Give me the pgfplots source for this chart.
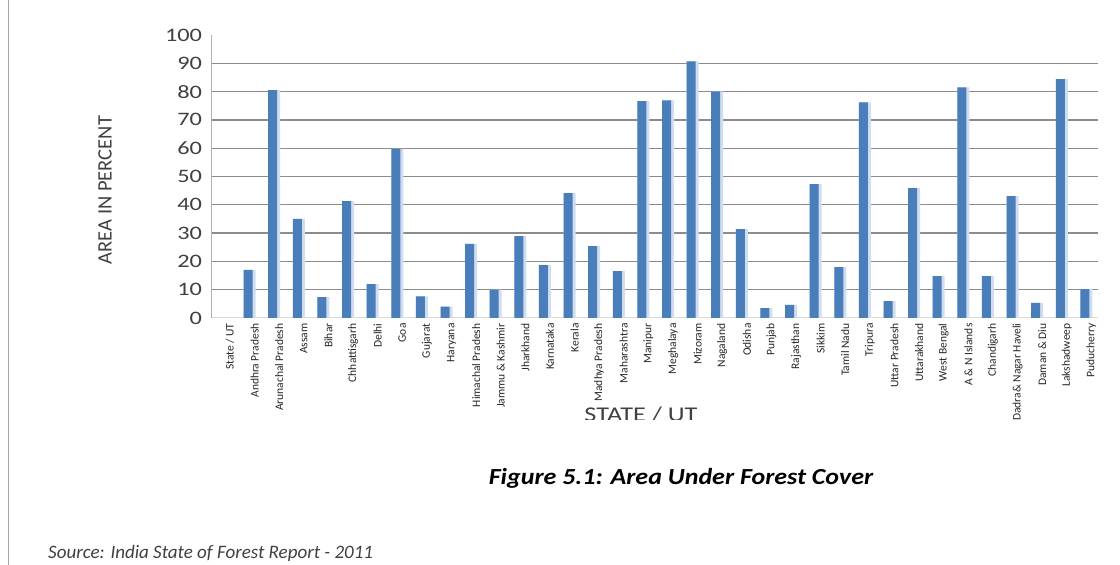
\documentclass[border=0pt]{standalone}
\usepackage{pgfplots}
\pgfplotsset{compat=1.18}
\usepackage{fontspec}
\setmainfont{Carlito}
\definecolor{barblue}{HTML}{4A7EBB}
\definecolor{barlight}{HTML}{CFDDEF}
\definecolor{gridgray}{HTML}{8C8C8C}
\definecolor{txt}{HTML}{404040}
\begin{document}
\begin{tikzpicture}[x=1pt,y=1pt]
\useasboundingbox (0,0) rectangle (1120,565);
\draw[gray!70, line width=1pt] (8,0) -- (8,565);
\begin{axis}[
  at={(224pt,247pt)}, anchor=origin,
  scale only axis, width=886pt, height=283pt,
  xmin=-0.5, xmax=35.5, ymin=0, ymax=100,
  axis x line*=bottom, axis y line*=left,
  x axis line style={draw=gray!30, line width=1pt, -},
  y axis line style={draw=gray!60, line width=1.5pt, -},
  ytick={10,20,...,90},
  extra y ticks={0,100},
  extra y tick style={grid=none},
  ymajorgrids,
  major grid style={draw=gridgray, line width=1.3pt},
  y tick style={draw=none},
  /pgf/number format/assume math mode=true,
  yticklabel style={font=\fontsize{19}{20}\selectfont, text=txt, anchor=east, xscale=1.28, xshift=-4pt},
  xtick={0,...,35},
  xticklabels={{State / UT},{Andhra Pradesh},{Arunachal Pradesh},{Assam},{Bihar},{Chhattisgarh},{Delhi},{Goa},{Gujarat},{Haryana},{Himachal Pradesh},{Jammu \& Kashmir},{Jharkhand},{Karnataka},{Kerala},{Madhya Pradesh},{Maharashtra},{Manipur},{Meghalaya},{Mizoram},{Nagaland},{Odisha},{Punjab},{Rajasthan},{Sikkim},{Tamil Nadu},{Tripura},{Uttar Pradesh},{Uttarakhand},{West Bengal},{A \& N Islands},{Chandigarh},{Dadra\& Nagar Haveli},{Daman \& Diu},{Lakshadweep},{Puducherry}},
  x tick style={draw=none},
  xticklabel style={rotate=90, anchor=east, font=\fontsize{11.5}{12}\selectfont, text=black!85, yshift=-6pt, inner sep=1pt},
  extra x ticks={-0.5,0.5,...,35.5},
  extra x tick labels={},
  extra x tick style={tick style={draw=gray!40, line width=1pt}, tickwidth=4pt, tick align=outside},
  ybar, bar width=12pt,
  clip=false,
]
\addplot[fill=barlight, draw=none, bar shift=1pt] coordinates {
(1,17.0) (2,80.5) (3,35.0) (4,7.4) (5,41.3) (6,12.0) (7,59.8) (8,7.6) (9,4.0) (10,26.2) (11,10.0) (12,28.9)
(13,18.7) (14,44.1) (15,25.4) (16,16.6) (17,76.6) (18,76.9) (19,90.7) (20,80.1) (21,31.4) (22,3.5) (23,4.6)
(24,47.3) (25,18.0) (26,76.2) (27,6.0) (28,45.9) (29,14.8) (30,81.5) (31,14.8) (32,43.1) (33,5.3) (34,84.4) (35,10.2)};
\addplot[fill=barblue, draw=none, bar width=9pt, bar shift=-0.5pt] coordinates {
(1,17.0) (2,80.5) (3,35.0) (4,7.4) (5,41.3) (6,12.0) (7,59.8) (8,7.6) (9,4.0) (10,26.2) (11,10.0) (12,28.9)
(13,18.7) (14,44.1) (15,25.4) (16,16.6) (17,76.6) (18,76.9) (19,90.7) (20,80.1) (21,31.4) (22,3.5) (23,4.6)
(24,47.3) (25,18.0) (26,76.2) (27,6.0) (28,45.9) (29,14.8) (30,81.5) (31,14.8) (32,43.1) (33,5.3) (34,84.4) (35,10.2)};
\end{axis}
\node[rotate=90, font=\fontsize{20.5}{22}\selectfont, text=txt] at (105,375) {AREA IN PERCENT};
\begin{scope}
\clip (0,145) rectangle (1120,565);
\node[anchor=north, font=\fontsize{21}{22}\selectfont, text=txt, inner sep=0pt, xscale=1.25] at (641,158) {STATE / UT};
\end{scope}
\node[font=\fontsize{23}{26}\selectfont\bfseries\itshape, xscale=1.13] at (681,87) {Figure 5.1: Area Under Forest Cover};
\node[anchor=base west, font=\fontsize{19}{21}\selectfont\itshape, text=txt, inner sep=0pt] at (48,6) {Source: India State of Forest Report - 2011};
\end{tikzpicture}
\end{document}
